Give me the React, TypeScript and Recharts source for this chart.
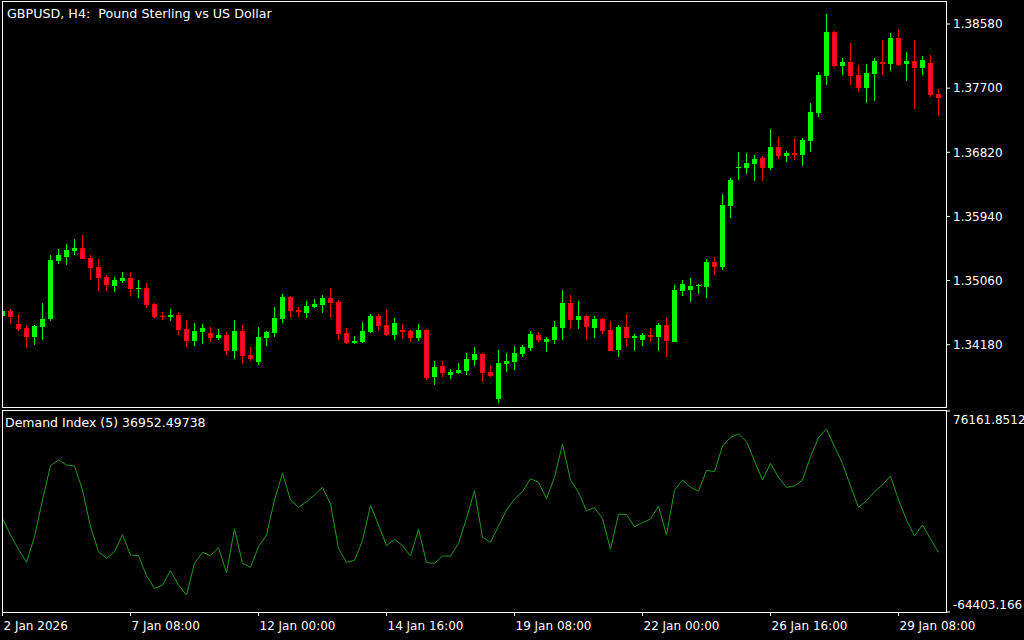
import React from 'react';
import { ComposedChart, LineChart, Bar, Line, XAxis, YAxis } from 'recharts';

const FONT = '"DejaVu Sans", sans-serif';
const BULL = '#00ff00';
const BEAR_LINE = '#ff0000';
const BEAR_FILL = '#ff0050';
const DI_COLOR = '#1f9a1f';

const opens = [
  1.34578, 1.34642, 1.34464, 1.34409, 1.34290, 1.34427, 1.34537, 1.35333, 1.35387, 1.35470,
  1.35507, 1.35370, 1.35246, 1.35109, 1.34990, 1.35058, 1.35095, 1.34948, 1.34958, 1.34738,
  1.34578, 1.34564, 1.34588, 1.34395, 1.34235, 1.34358, 1.34341, 1.34272, 1.34313, 1.34098,
  1.34368, 1.34035, 1.33947, 1.34276, 1.34345, 1.34537, 1.34835, 1.34660, 1.34619, 1.34701,
  1.34729, 1.34821, 1.34766, 1.34341, 1.34207, 1.34217, 1.34354, 1.34574, 1.34450, 1.34313,
  1.34382, 1.34368, 1.34272, 1.34382, 1.33741, 1.33888, 1.33768, 1.33792, 1.33823, 1.33974,
  1.34052, 1.33806, 1.33435, 1.33919, 1.33947, 1.34057, 1.34139, 1.34313, 1.34221, 1.34249,
  1.34413, 1.34752, 1.34523, 1.34574, 1.34413, 1.34533, 1.34382, 1.34111, 1.34423, 1.34276,
  1.34249, 1.34313, 1.34286, 1.34450, 1.34221, 1.34917, 1.34931, 1.34985, 1.34976, 1.35315,
  1.35250, 1.36087, 1.36604, 1.36608, 1.36663, 1.36742, 1.36604, 1.36892, 1.36773, 1.36810,
  1.36787, 1.36979, 1.37363, 1.37871, 1.38470, 1.38008, 1.38059, 1.37880, 1.37706, 1.37898,
  1.38059, 1.38035, 1.38388, 1.38035, 1.38072, 1.37980, 1.38045, 1.37620,
];

const highs = [
  1.34670, 1.34670, 1.34601, 1.34437, 1.34454, 1.34752, 1.35411, 1.35493, 1.35566, 1.35634,
  1.35689, 1.35411, 1.35360, 1.35136, 1.35109, 1.35182, 1.35182, 1.35068, 1.35027, 1.34756,
  1.34633, 1.34670, 1.34633, 1.34523, 1.34478, 1.34464, 1.34423, 1.34395, 1.34354, 1.34519,
  1.34450, 1.34148, 1.34423, 1.34368, 1.34697, 1.34876, 1.34848, 1.34697, 1.34780, 1.34807,
  1.34862, 1.34958, 1.34793, 1.34409, 1.34303, 1.34496, 1.34601, 1.34601, 1.34656, 1.34546,
  1.34464, 1.34382, 1.34464, 1.34395, 1.33956, 1.33956, 1.33847, 1.33933, 1.34066, 1.34148,
  1.34066, 1.33888, 1.34107, 1.34066, 1.34162, 1.34176, 1.34368, 1.34354, 1.34286, 1.34505,
  1.34931, 1.34862, 1.34780, 1.34588, 1.34574, 1.34546, 1.34505, 1.34450, 1.34605, 1.34327,
  1.34341, 1.34413, 1.34478, 1.34546, 1.34999, 1.35068, 1.35095, 1.35013, 1.35356, 1.35383,
  1.36248, 1.36467, 1.36824, 1.36810, 1.36783, 1.36769, 1.37139, 1.37030, 1.36838, 1.37016,
  1.37016, 1.37496, 1.37921, 1.38717, 1.38484, 1.38114, 1.38319, 1.38018, 1.38031, 1.38114,
  1.38361, 1.38457, 1.38498, 1.38196, 1.38361, 1.38141, 1.38155, 1.37688,
];

const lows = [
  1.34546, 1.34460, 1.34368, 1.34139, 1.34176, 1.34249, 1.34509, 1.35291, 1.35278, 1.35415,
  1.35358, 1.35072, 1.34921, 1.34921, 1.34907, 1.35031, 1.34852, 1.34825, 1.34688, 1.34550,
  1.34519, 1.34509, 1.34317, 1.34153, 1.34166, 1.34194, 1.34221, 1.34245, 1.34039, 1.33984,
  1.33919, 1.33956, 1.33904, 1.34166, 1.34290, 1.34482, 1.34550, 1.34564, 1.34550, 1.34688,
  1.34619, 1.34550, 1.34249, 1.34194, 1.34194, 1.34207, 1.34345, 1.34386, 1.34303, 1.34245,
  1.34276, 1.34217, 1.34231, 1.33700, 1.33631, 1.33741, 1.33714, 1.33783, 1.33768, 1.33888,
  1.33672, 1.33741, 1.33384, 1.33810, 1.33837, 1.34015, 1.34098, 1.34221, 1.34084, 1.34194,
  1.34249, 1.34400, 1.34400, 1.34249, 1.34276, 1.34331, 1.34096, 1.34015, 1.34166, 1.34098,
  1.34166, 1.34221, 1.34098, 1.34015, 1.34219, 1.34852, 1.34770, 1.34880, 1.34825, 1.35140,
  1.35209, 1.35922, 1.36444, 1.36526, 1.36430, 1.36430, 1.36577, 1.36728, 1.36687, 1.36714,
  1.36632, 1.36824, 1.37304, 1.37743, 1.37994, 1.37880, 1.37743, 1.37651, 1.37496, 1.37524,
  1.37880, 1.37939, 1.38008, 1.37798, 1.37414, 1.37880, 1.37583, 1.37318,
];

const closes = [
  1.34642, 1.34564, 1.34400, 1.34290, 1.34437, 1.34529, 1.35342, 1.35411, 1.35479, 1.35507,
  1.35360, 1.35236, 1.35099, 1.35003, 1.35068, 1.35095, 1.34948, 1.34962, 1.34729, 1.34564,
  1.34564, 1.34592, 1.34386, 1.34235, 1.34368, 1.34409, 1.34276, 1.34313, 1.34098, 1.34368,
  1.34029, 1.33988, 1.34286, 1.34354, 1.34546, 1.34835, 1.34647, 1.34633, 1.34711, 1.34738,
  1.34821, 1.34756, 1.34331, 1.34207, 1.34235, 1.34368, 1.34574, 1.34441, 1.34317, 1.34478,
  1.34358, 1.34276, 1.34382, 1.33727, 1.33874, 1.33796, 1.33810, 1.33833, 1.33984, 1.34052,
  1.33796, 1.33755, 1.33929, 1.33956, 1.34066, 1.34148, 1.34327, 1.34249, 1.34258, 1.34423,
  1.34752, 1.34523, 1.34574, 1.34427, 1.34533, 1.34372, 1.34098, 1.34423, 1.34276, 1.34303,
  1.34313, 1.34286, 1.34450, 1.34231, 1.34931, 1.35013, 1.34985, 1.34999, 1.35315, 1.35250,
  1.36097, 1.36440, 1.36618, 1.36673, 1.36728, 1.36608, 1.36892, 1.36773, 1.36810, 1.36787,
  1.36989, 1.37373, 1.37880, 1.38470, 1.38008, 1.38059, 1.37871, 1.37706, 1.37908, 1.38072,
  1.38035, 1.38388, 1.38022, 1.38072, 1.37980, 1.38086, 1.37606, 1.37569,
];

const demandIndex = [
  1100, -10556, -20579, -29671, -11721, 13921, 37931, 41894, 38398, 37698,
  20914, -4728, -22211, -26873, -22211, -10322, -24542, -25008, -38995, -47853,
  -45522, -35498, -45522, -52515, -30370, -22677, -25008, -19414, -36897, -6360,
  -30370, -33167, -18714, -10556, 13921, 32570, 13921, 8793, 12755, 17418,
  22779, 11124, -19880, -29671, -28272, -14518, 10191, -3562, -18015, -13586,
  -18015, -25241, -6593, -29904, -30370, -25241, -25241, -16383, 1100, 20448,
  -12187, -15684, -4262, 6928, 14620, 19749, 28840, 26276, 14853, 29772,
  53083, 27908, 19283, 6461, 8559, 867, -20579, 3897, 3897, -4728,
  -1930, 634, 9725, -10556, 20681, 27908, 22779, 20215, 34668, 33735,
  51685, 57746, 60077, 54715, 41195, 27908, 39563, 29772, 22779, 23712,
  27908, 44225, 57513, 63573, 51219, 39563, 23712, 8793, 13455, 19749,
  24411, 30705, 13921, -66, -11255, -3562, -13353, -22677,
];

const priceTicks = [1.3418, 1.3506, 1.3594, 1.3682, 1.377, 1.3858];
const priceMin = 1.333115;
const priceMax = 1.388819;
const diMin = -64403.166;
const diMax = 76161.8512;
const timeTickIdx = [0, 16, 32, 48, 64, 80, 96, 112];
const timeTickLabels = [
  '2 Jan 2026', '7 Jan 08:00', '12 Jan 00:00', '14 Jan 16:00',
  '19 Jan 08:00', '22 Jan 00:00', '26 Jan 16:00', '29 Jan 08:00',
];
const titleText = 'GBPUSD, H4:  Pound Sterling vs US Dollar';
const indicatorText = 'Demand Index (5) 36952.49738';

const xDomain: [number, number] = [-0.0625, 117.9375];

const candleData = opens.map((o, i) => ({
  i,
  o,
  h: highs[i],
  l: lows[i],
  c: closes[i],
  range: [lows[i], highs[i]],
}));

const diData = demandIndex.map((v, i) => ({ i, di: v }));

const Candle = (props: any) => {
  const { x, y, width, height, payload } = props;
  if (x == null || y == null || !payload) return null;
  const { o, h, l, c } = payload;
  const top = Math.min(y, y + height);
  const bot = Math.max(y, y + height);
  const span = h - l;
  const toY = (v: number) => (span > 0 ? top + ((h - v) / span) * (bot - top) : top);
  const cx = Math.floor(x + width / 2) + 0.5;
  const up = c >= o;
  const line = up ? BULL : BEAR_LINE;
  const fill = up ? BULL : BEAR_FILL;
  const yH = Math.round(top);
  const yL = Math.round(bot);
  const bTop = Math.round(toY(Math.max(o, c)));
  const bBot = Math.round(toY(Math.min(o, c)));
  return (
    <g>
      <line x1={cx} x2={cx} y1={yH} y2={Math.max(yL, yH + 1)} stroke={line} strokeWidth={1} />
      {bBot - bTop <= 2 ? (
        <rect x={cx - 2.5} y={bTop} width={5} height={Math.max(1, bBot - bTop)} fill={line} />
      ) : (
        <rect x={cx - 2} y={bTop + 0.5} width={4} height={bBot - bTop - 1} fill={fill} stroke={line} strokeWidth={1} />
      )}
    </g>
  );
};

const XTick = (props: any) => {
  const { x, y, payload } = props;
  const idx = timeTickIdx.indexOf(payload.value);
  const label = idx >= 0 ? timeTickLabels[idx] : '';
  return (
    <text x={x + 1} y={y + 14} fill="#fff" fontSize={12} fontFamily={FONT} textAnchor="start">
      {label}
    </text>
  );
};

const DiTick = (props: any) => {
  const { x, y, payload } = props;
  const isMax = payload.value > 0;
  const label = isMax ? String(diMax) : String(diMin);
  return (
    <text x={x} y={isMax ? y + 13 : y - 3} fill="#fff" fontSize={12} fontFamily={FONT} textAnchor="start">
      {label}
    </text>
  );
};

export default function App() {
  return (
    <div style={{ position: 'fixed', left: 0, top: 0, width: 1024, height: 640, background: '#000', overflow: 'hidden' }}>
      <div style={{ position: 'absolute', left: 0, top: 0 }}>
        <ComposedChart width={1024} height={410} data={candleData} margin={{ top: 2, right: 0, bottom: 2, left: 2 }}>
          <XAxis type="number" dataKey="i" domain={xDomain} hide allowDataOverflow />
          <YAxis
            orientation="right"
            type="number"
            domain={[priceMin, priceMax]}
            allowDataOverflow
            ticks={priceTicks}
            tickFormatter={(v: number) => v.toFixed(5)}
            width={78}
            axisLine={false}
            tickLine={{ stroke: '#fff' }}
            tickSize={4}
            tickMargin={3}
            tick={{ fill: '#fff', fontSize: 12, fontFamily: FONT }}
            interval={0}
          />
          <Bar dataKey="range" barSize={5} shape={(p: any) => <Candle {...p} />} isAnimationActive={false} />
        </ComposedChart>
      </div>
      <div style={{ position: 'absolute', left: 0, top: 410 }}>
        <LineChart width={1024} height={230} data={diData} margin={{ top: 1, right: 0, bottom: 0, left: 2 }}>
          <XAxis
            type="number"
            dataKey="i"
            domain={xDomain}
            allowDataOverflow
            ticks={timeTickIdx}
            interval={0}
            height={28}
            axisLine={false}
            tickLine={{ stroke: '#fff' }}
            tickSize={4}
            tickMargin={0}
            tick={<XTick />}
          />
          <YAxis
            orientation="right"
            type="number"
            domain={[diMin, diMax]}
            allowDataOverflow
            ticks={[diMin, diMax]}
            interval={0}
            width={78}
            axisLine={false}
            tickLine={{ stroke: '#fff' }}
            tickSize={4}
            tickMargin={3}
            tick={<DiTick />}
          />
          <Line type="linear" dataKey="di" stroke={DI_COLOR} strokeWidth={1} dot={false} isAnimationActive={false} />
        </LineChart>
      </div>
      <svg width={1024} height={640} style={{ position: 'absolute', left: 0, top: 0, pointerEvents: 'none' }}>
        <rect x={2.5} y={1.5} width={944} height={406} fill="none" stroke="#fff" strokeWidth={1} />
        <rect x={2.5} y={410.5} width={944} height={202} fill="none" stroke="#fff" strokeWidth={1} />
        <text x={7} y={18} fill="#fff" fontSize={12.7} fontFamily={FONT} style={{ whiteSpace: 'pre' }}>
          {titleText}
        </text>
        <text x={5} y={427} fill="#fff" fontSize={12.5} fontFamily={FONT}>
          {indicatorText}
        </text>
      </svg>
    </div>
  );
}
